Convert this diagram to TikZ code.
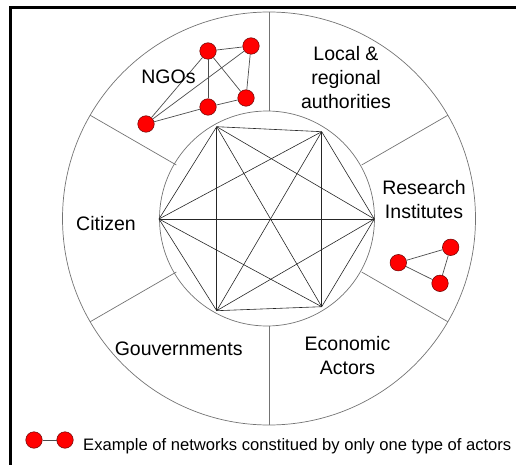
\documentclass[tikz,border=0pt]{standalone}
\usepackage{fontspec}
\setmainfont{Liberation Sans}
\usetikzlibrary{calc}
\begin{document}
\begin{tikzpicture}[x=1pt,y=-1pt,
 dot/.style={circle,fill=red,draw=red!40!black,line width=0.5pt,minimum size=16.5pt,inner sep=0pt},
 lbl/.style={font=\fontsize{19.5}{24}\selectfont,align=center,inner sep=0pt},
 ring/.style={draw=black!55,line width=0.7pt},
 web/.style={draw=black!85,line width=0.6pt},
 link/.style={draw=black!70,line width=0.7pt}]
\useasboundingbox (0,0) rectangle (516,465);
% frame
\draw[line width=3pt] (10,465) -- (10,7.5) -- (516,7.5);
% circles
\coordinate (c) at (269,218.5);
\coordinate (ic) at (267,218.5);
\draw[ring] (c) circle[radius=206.5pt];
\draw[ring] (ic) circle[radius=107.5pt];
% sector dividers
\foreach \a in {30,90,150,210,270,330}{
  \draw[ring] ($(c)+(\a:107pt)$) -- ($(c)+(\a:206.5pt)$);
}
% inner complete graph
\coordinate (v1) at (216.7,126.7);
\coordinate (v2) at (321.7,131.7);
\coordinate (v3) at (374.3,219);
\coordinate (v4) at (321.7,306.7);
\coordinate (v5) at (216.7,310.7);
\coordinate (v6) at (159,219);
\foreach \i/\j in {1/2,1/3,1/4,1/5,1/6,2/3,2/4,2/5,2/6,3/4,3/5,3/6,4/5,4/6,5/6}{
  \draw[web] (v\i) -- (v\j);
}
% NGO network
\node[dot] (na) at (208,51) {};
\node[dot] (nb) at (251,46) {};
\node[dot] (nc) at (208,107) {};
\node[dot] (nd) at (246,98) {};
\node[dot] (ne) at (146,124) {};
\foreach \p/\q in {na/nb,na/nc,na/nd,nb/nd,nc/nd,ne/na,ne/nb,ne/nc}{
  \draw[link] (\p) -- (\q);
}
% research network
\node[dot] (rf) at (450.7,247.3) {};
\node[dot] (rg) at (398.3,262.7) {};
\node[dot] (rh) at (440,283.3) {};
\draw[link] (rg) -- (rf);
\draw[link] (rf) -- (rh);
\draw[link] (rg) -- (rh);
% labels
\node[lbl] (ngo) at (168.5,76.5) {NGOs};
\node[lbl] (loc) at (346,77.5) {Local \&\\regional\\authorities};
\node[lbl] (res) at (424,199.7) {Research\\Institutes};
\node[lbl] (cit) at (106,224) {Citizen};
\node[lbl] (gov) at (178.7,348.3) {Gouvernments};
\node[lbl] (eco) at (347.5,355.3) {Economic\\Actors};
% legend
\node[dot] (l1) at (34,440) {};
\node[dot] (l2) at (65,440) {};
\draw[link] (l1) -- (l2);
\node[font=\fontsize{16.6}{20}\selectfont,anchor=base west,inner sep=0pt] (leg) at (83,450) {Example of networks constitued by only one type of actors};
\end{tikzpicture}
\end{document}
